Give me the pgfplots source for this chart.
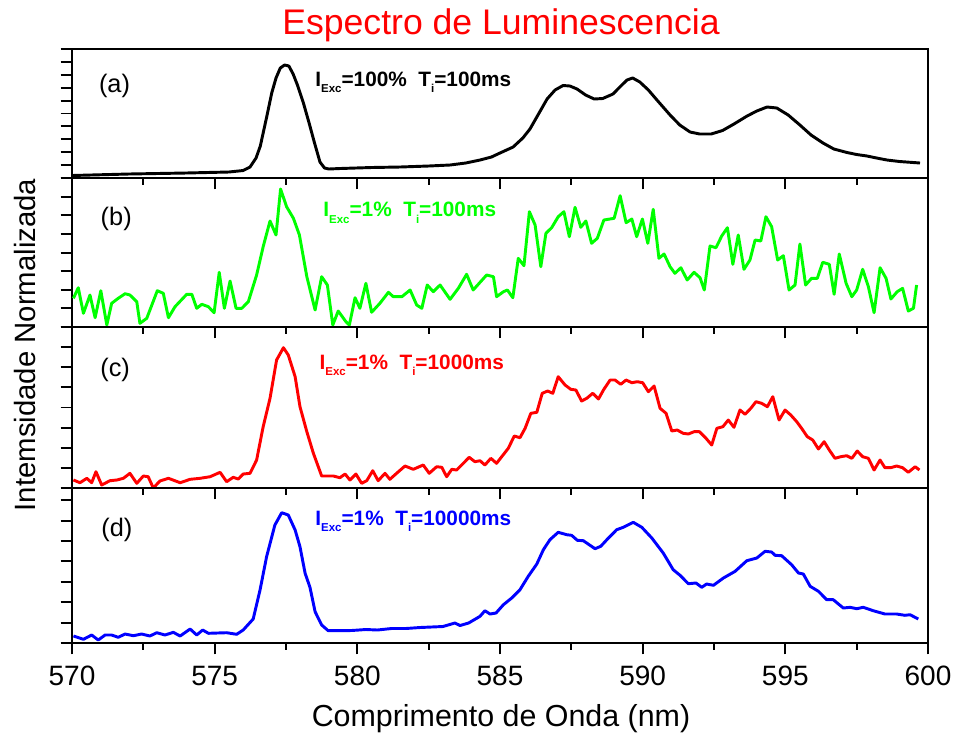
\documentclass[border=0pt]{standalone}
\usepackage{fontspec}
\setmainfont{Liberation Sans}
\usepackage{pgfplots}
\pgfplotsset{compat=1.18}

\definecolor{specgreen}{RGB}{0,255,0}
\definecolor{specred}{RGB}{255,0,0}
\definecolor{specblue}{RGB}{0,0,255}

% subscript that hangs below the baseline
\newcommand{\sub}[1]{\raisebox{-5pt}{\fontsize{8.6}{9}\selectfont #1}}
\newcommand{\cond}[2]{\fontsize{15.6}{17}\selectfont\bfseries I\sub{Exc}=#1\%~~T\sub{i}=#2ms}

\pgfplotsset{
  panel/.style={
    scale only axis, width=642pt,
    xmin=570, xmax=600, ymin=0,
    xtick={570,575,...,600}, minor x tick num=1,
    xtick pos=bottom, ytick pos=left, tick align=outside,
    xticklabels={}, yticklabels={},
    major tick length=8.5pt, minor tick length=5pt,
    every tick/.style={line width=1.4pt, black},
    axis line style={line width=1.7pt},
    every axis plot/.append style={line width=2.2pt, line join=round, no markers},
  },
}

\begin{document}
\begin{tikzpicture}
\path[use as bounding box] (-54pt,36.75pt) rectangle (663pt,-521.25pt);

% (a) 100% excitation, 100 ms
\begin{axis}[panel, name=a, at={(0,0)}, anchor=north west,
  height=96.75pt, ymax=129, ytick distance=12.9]
\addplot[black] coordinates {
(570.00,2.5) (572.00,4) (574.00,5) (575.50,6) (576.00,7.5) (576.24,11) (576.45,20)
(576.60,32) (576.83,62) (577.00,85) (577.15,100) (577.30,110) (577.45,113)
(577.60,112) (577.75,104) (577.90,93) (578.10,76) (578.30,56) (578.50,35)
(578.69,16) (578.85,10) (579.00,9) (579.40,9.5) (580.50,10.5) (581.50,11)
(582.50,12) (583.25,13) (583.80,15) (584.30,18) (584.70,21) (585.00,25)
(585.46,31) (585.80,40) (586.05,49) (586.35,64) (586.65,79) (586.93,88)
(587.21,92.5) (587.45,92) (587.70,89) (588.00,83) (588.30,79) (588.60,79.5)
(588.96,84) (589.20,91) (589.45,98) (589.65,100) (589.90,96) (590.20,88)
(590.50,78) (590.96,63) (591.30,53) (591.66,46) (592.00,44) (592.40,44)
(592.80,47.5) (593.20,54) (593.66,62) (594.00,67) (594.36,71) (594.70,70)
(595.10,63) (595.51,53) (595.90,43) (596.32,35) (596.70,29) (597.16,25.5)
(597.50,23.5) (597.86,22) (598.20,20) (598.56,18) (599.00,16.5) (599.72,15)
};
\node[font=\fontsize{19}{21}\selectfont, inner sep=0pt] at (axis cs:571.49,92) {(a)};
\node[anchor=base west, inner sep=0pt] at (axis cs:578.52,92) {\cond{100}{100}};
\end{axis}

% (b) 1% excitation, 100 ms
\begin{axis}[panel, name=b, at={(a.south west)}, anchor=north west,
  height=111.75pt, ymax=149, ytick distance=18.6]
\addplot[specgreen] coordinates {
(570.05,28.7) (570.22,39.3) (570.40,13.7) (570.63,32) (570.81,9.3) (571.01,36.3)
(571.22,2) (571.39,23.7) (571.62,28.7) (571.86,33.3) (572.03,32) (572.27,25.3)
(572.38,3.7) (572.62,8.7) (572.99,36.3) (573.20,33.7) (573.38,9.3) (573.61,20.3)
(574.02,32.7) (574.20,32.7) (574.37,18.7) (574.55,22.7) (574.78,20.3) (574.98,14.3)
(575.16,54.7) (575.34,18.7) (575.54,46) (575.75,18.7) (575.95,18.7) (576.18,25.3)
(576.47,52) (576.70,80.3) (576.94,106) (577.15,92) (577.31,138) (577.52,120.3)
(577.76,108.7) (577.97,92) (578.23,50.3) (578.52,17) (578.75,50.3) (578.95,42)
(579.14,2) (579.33,16) (579.60,5.3) (579.72,2) (579.92,29.3) (580.09,18.7)
(580.30,43.7) (580.50,14.7) (580.79,23.7) (581.09,34.7) (581.26,30.3) (581.56,30.3)
(581.85,37) (582.08,22) (582.26,18.7) (582.45,42) (582.66,35.3) (582.90,42)
(583.25,27.7) (583.54,38.7) (583.83,52.7) (584.06,37) (584.53,52) (584.77,50.3)
(584.88,30.3) (585.12,35.3) (585.26,37) (585.45,29.3) (585.64,68.7) (585.84,61.3)
(586.03,115.3) (586.23,102) (586.43,60.3) (586.61,93.7) (586.81,99.3) (587.04,110.3)
(587.24,115.3) (587.43,90.3) (587.63,119.7) (587.83,99.7) (588.01,106) (588.21,83.7)
(588.41,88.7) (588.64,107) (589.00,108.7) (589.21,131.3) (589.42,104.3) (589.62,108)
(589.79,90.3) (589.99,108) (590.18,83.7) (590.37,117.7) (590.57,68.7) (590.75,73)
(590.96,60.3) (591.13,53.7) (591.34,59.3) (591.56,47) (591.80,54.7) (592.01,49.3)
(592.16,37) (592.36,81) (592.57,79.3) (592.77,91) (592.97,99.3) (593.16,62.7)
(593.35,92) (593.55,57.7) (593.76,67) (593.94,87) (594.14,86) (594.32,110.3)
(594.52,100.3) (594.73,67) (594.93,71.3) (595.13,37) (595.34,42) (595.51,83)
(595.71,42) (595.92,48.7) (596.12,48.7) (596.31,64.7) (596.54,62.7) (596.71,32.7)
(596.89,73) (597.13,43.7) (597.33,30.3) (597.50,37) (597.71,57.7) (597.91,40.3)
(598.11,14.3) (598.32,59.3) (598.53,48.7) (598.70,28) (598.92,35.3) (599.11,38.7)
(599.31,16) (599.49,18.7) (599.60,42)
};
\node[font=\fontsize{19}{21}\selectfont, inner sep=0pt] at (axis cs:571.55,107.7) {(b)};
\node[anchor=base west, inner sep=0pt, text=specgreen] at (axis cs:578.80,110.3) {\cond{1}{100}};
\end{axis}

% (c) 1% excitation, 1000 ms
\begin{axis}[panel, name=c, at={(b.south west)}, anchor=north west,
  height=120.75pt, ymax=161, ytick distance=20.125]
\addplot[specred] coordinates {
(570.05,8) (570.28,5.3) (570.52,9.7) (570.69,5.3) (570.84,16.3) (571.04,3)
(571.33,7.3) (571.57,8) (571.80,9.7) (572.03,14.7) (572.27,4.7) (572.50,12)
(572.67,11.3) (572.85,0) (573.08,7) (573.38,9.7) (573.79,5.3) (574.14,8.7)
(574.49,9.7) (574.84,11.3) (575.19,15.7) (575.42,6.3) (575.65,10.7) (575.83,9)
(576.00,14) (576.24,14.7) (576.47,28) (576.70,61.3) (576.94,89.7) (577.17,128)
(577.41,140.3) (577.58,133) (577.82,111.3) (577.99,81.3) (578.23,56.3) (578.46,34.7)
(578.75,12) (579.16,12) (579.39,10.3) (579.57,14) (579.74,8) (579.95,14)
(580.15,4.7) (580.33,7.3) (580.54,17.3) (580.73,7.3) (580.97,14.7) (581.14,8.7)
(581.44,16.3) (581.67,22) (581.96,18.7) (582.31,23) (582.52,14.7) (582.78,21.3)
(582.96,20.7) (583.13,11.3) (583.31,18.7) (583.48,18) (583.69,24) (583.92,30.7)
(584.12,26.3) (584.30,27.3) (584.47,23) (584.68,29.7) (584.88,24.7) (585.06,31.3)
(585.29,39.7) (585.50,52) (585.70,50.3) (585.88,59.7) (586.08,74.7) (586.29,75.7)
(586.48,94.7) (586.67,97) (586.85,94.7) (587.04,111.3) (587.28,103) (587.48,98.7)
(587.66,98) (587.86,87) (588.04,89.7) (588.25,94.7) (588.45,89) (588.64,98.7)
(588.86,108) (589.03,108) (589.23,103.7) (589.42,108) (589.62,105.3) (589.81,106.3)
(590.00,105.3) (590.20,96.3) (590.40,102) (590.61,79.7) (590.82,74.7) (591.02,57)
(591.21,58) (591.42,54.7) (591.60,54) (591.80,56.3) (591.99,56.3) (592.22,49.7)
(592.42,43) (592.60,59.7) (592.81,61.3) (593.00,68) (593.20,60.7) (593.41,78)
(593.59,73.7) (593.79,79.7) (593.97,86.3) (594.17,84.7) (594.37,81.3) (594.56,91.3)
(594.78,68) (594.99,78) (595.19,73) (595.40,66.3) (595.57,59.7) (595.77,51.3)
(595.96,48) (596.16,39) (596.36,46.3) (596.54,38) (596.74,29.7) (596.94,31.3)
(597.15,32.3) (597.33,29.7) (597.52,37) (597.71,31.3) (597.91,29.7) (598.11,18)
(598.32,28) (598.49,20.3) (598.69,20.3) (598.90,22) (599.11,20.3) (599.31,15.7)
(599.55,21.3) (599.70,18)
};
\node[font=\fontsize{19}{21}\selectfont, inner sep=0pt] at (axis cs:571.51,118) {(c)};
\node[anchor=base west, inner sep=0pt, text=specred] at (axis cs:578.67,118.7) {\cond{1}{1000}};
\end{axis}

% (d) 1% excitation, 10000 ms
\begin{axis}[panel, name=d, at={(c.south west)}, anchor=north west,
  height=116.25pt, ymax=155, ytick distance=20.4,
  xticklabels={570,575,580,585,590,595,600},
  xticklabel style={font=\fontsize{21}{21}\selectfont, anchor=base, yshift=-23pt},
  /pgf/number format/assume math mode=true]
\addplot[specblue] coordinates {
(570.05,7) (570.40,3.7) (570.69,8) (570.92,3) (571.16,8) (571.39,8)
(571.62,5.7) (571.86,9) (572.15,7.3) (572.44,9) (572.73,7) (572.97,10.3)
(573.26,8) (573.55,10.7) (573.79,7) (574.14,14) (574.37,8) (574.58,13)
(574.78,9.7) (575.42,10.3) (575.77,8.7) (576.00,13) (576.35,24) (576.59,53)
(576.82,86.3) (577.11,118) (577.35,130.3) (577.58,128) (577.82,113) (577.99,96.3)
(578.17,69.7) (578.34,55.7) (578.52,31.3) (578.75,18) (578.98,12.3) (579.39,12.3)
(579.80,12.5) (580.30,13.5) (580.70,13) (581.20,14.5) (581.70,14.5) (582.20,15.5)
(582.60,16) (583.00,16.5) (583.42,20) (583.60,17.5) (583.90,20) (584.30,26.7)
(584.47,32.3) (584.65,29) (584.86,30) (585.12,38.3)
(585.41,45) (585.70,53.3) (585.99,66.7) (586.29,79) (586.52,93.3) (586.75,103.3)
(587.04,110.7) (587.34,108.3) (587.51,107.7) (587.71,102.7) (587.92,102.3) (588.33,94.3)
(588.53,96.7) (588.80,105) (589.09,113.3) (589.32,115.7) (589.67,120.7) (589.97,115.7)
(590.32,105) (590.72,90) (591.07,73.3) (591.31,67.7) (591.60,59.3) (591.87,60)
(592.07,55.7) (592.24,59) (592.48,57.7) (592.83,65) (593.24,71.7) (593.65,82.3)
(594.00,85) (594.29,91.7) (594.52,91) (594.64,87.7) (594.87,87.3) (595.22,78.3)
(595.46,70) (595.63,69) (595.87,56.7) (596.16,51.7) (596.45,43.3) (596.68,43.3)
(597.03,35) (597.27,35.7) (597.50,34.3) (597.73,35.7) (598.08,32.3) (598.49,29)
(598.90,29) (599.19,27.7) (599.37,28.3) (599.66,24)
};
\node[font=\fontsize{19}{21}\selectfont, inner sep=0pt] at (axis cs:571.57,113) {(d)};
\node[anchor=base west, inner sep=0pt, text=specblue] at (axis cs:578.52,118) {\cond{1}{10000}};
\end{axis}

% titles
\node[anchor=base, text=specred, font=\fontsize{26.7}{30}\selectfont] at (321.75pt,11.25pt) {Espectro de Luminescencia};
\node[anchor=base, font=\fontsize{22.8}{26}\selectfont] at (321.75pt,-508.2pt) {Comprimento de Onda (nm)};
\node[anchor=base, rotate=90, font=\fontsize{22}{26}\selectfont] at (-27pt,-222pt) {Intemsidade Normalizada};
\end{tikzpicture}
\end{document}
